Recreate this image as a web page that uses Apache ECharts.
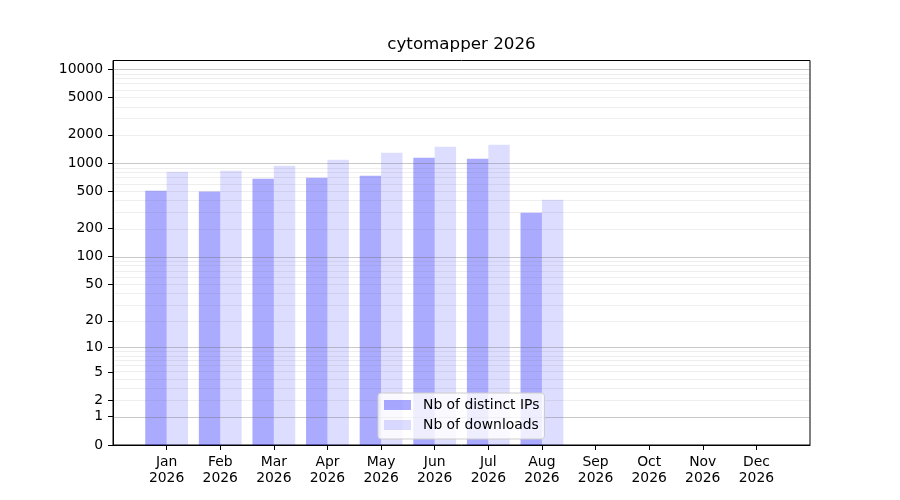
<!DOCTYPE html>
<html lang="en">
<head>
    <meta charset="UTF-8">
    <title>cytomapper 2026</title>
    <script src="https://cdn.jsdelivr.net/npm/echarts@6/dist/echarts.min.js"></script>
    <style>
        html, body { margin: 0; padding: 0; background: #fff; }
        #chart { width: 900px; height: 500px; }
    </style>
</head>
<body>
<div id="chart"></div>
<script>
    'use strict';
    // monthly values
    const months = ['Jan', 'Feb', 'Mar', 'Apr', 'May', 'Jun', 'Jul', 'Aug', 'Sep', 'Oct', 'Nov', 'Dec'];
    const year = '2026';
    const distinctIPs = [509, 497, 683, 700, 735, 1143, 1115, 296, 0, 0, 0, 0];
    const downloads = [811, 831, 939, 1088, 1292, 1497, 1572, 408, 0, 0, 0, 0];

    // y axis: log10(v + 1) scale
    const yTickLabels = [0, 1, 2, 5, 10, 20, 50, 100, 200, 500, 1000, 2000, 5000, 10000];
    const majorGrid = [1, 10, 100, 1000, 10000];
    const minorSteps = [2, 3, 4, 5, 6, 7, 8, 9];
    const yTop = 12380;

    function toAxis(v) { return v == null ? null : Math.log10(v + 1); }

    let minorGrid = [];
    majorGrid.slice(0, 4).forEach(function (d) {
        minorSteps.forEach(function (s) { minorGrid.push(s * d); });
    });

    // pad one empty slot on each side so the months sit at 1..12 of 0..13
    let categories = [''].concat(months.map(m => m + '\n' + year)).concat(['']);
    let ipData = [null].concat(distinctIPs.map(toAxis)).concat([null]);
    let dlData = [null].concat(downloads.map(toAxis)).concat([null]);

    const font = 'DejaVu Sans';
    let gridLines = minorGrid.map(v => ({
        yAxis: toAxis(v),
        lineStyle: { color: 'rgba(100,100,100,0.11)', width: 1, type: 'solid' }
    })).concat(majorGrid.map(v => ({
        yAxis: toAxis(v),
        lineStyle: { color: 'rgba(100,100,100,0.35)', width: 1, type: 'solid' }
    })));

    let option = {
        animation: false,
        textStyle: { fontFamily: font },
        title: {
            text: 'cytomapper ' + year,
            left: 461.5,
            top: 35,
            padding: 0,
            textAlign: 'center',
            textStyle: { fontFamily: font, fontSize: 16.7, fontWeight: 'normal', color: '#000', lineHeight: 20 }
        },
        legend: {
            data: ['Nb of distinct IPs', 'Nb of downloads'],
            orient: 'vertical',
            left: 378,
            top: 393,
            z: 10,
            padding: [4, 5, 6, 6],
            itemWidth: 27,
            itemHeight: 10,
            itemGap: 4,
            icon: 'rect',
            backgroundColor: 'rgba(255,255,255,0.8)',
            borderColor: '#cccccc',
            borderWidth: 1,
            borderRadius: 3,
            textStyle: { fontFamily: font, fontSize: 13.9, color: '#000', lineHeight: 16, padding: [0, 0, 0, 7] }
        },
        grid: {
            left: 113,
            right: 90,
            top: 60.5,
            bottom: 55,
            show: true,
            borderColor: '#000',
            borderWidth: 1,
            backgroundColor: 'transparent'
        },
        xAxis: {
            type: 'category',
            data: categories,
            boundaryGap: false,
            axisLine: { show: true, lineStyle: { color: '#000', width: 1 } },
            axisTick: {
                show: true,
                length: 5,
                interval: function (i) { return i > 0 && i < categories.length - 1; },
                lineStyle: { color: '#000' }
            },
            axisLabel: {
                interval: 0,
                margin: 9,
                fontFamily: font,
                fontSize: 13.9,
                lineHeight: 16,
                color: '#000'
            },
            splitLine: { show: false }
        },
        yAxis: {
            type: 'value',
            min: 0,
            max: toAxis(yTop),
            axisLine: { show: true, lineStyle: { color: '#000', width: 1 } },
            axisTick: {
                show: true,
                length: 5,
                customValues: yTickLabels.map(toAxis),
                lineStyle: { color: '#000' }
            },
            axisLabel: {
                customValues: yTickLabels.map(toAxis),
                margin: 10,
                fontFamily: font,
                fontSize: 13.9,
                color: '#000',
                formatter: function (v) { return String(Math.round(Math.pow(10, v) - 1)); }
            },
            splitLine: { show: false }
        },
        series: [
            {
                name: 'Nb of distinct IPs',
                type: 'bar',
                data: ipData,
                barWidth: 21.4,
                barGap: '0%',
                itemStyle: { color: 'rgba(0,0,255,0.333)' }
            },
            {
                name: 'Nb of downloads',
                type: 'bar',
                data: dlData,
                barWidth: 21.4,
                barGap: '0%',
                itemStyle: { color: 'rgba(0,0,255,0.133)' }
            },
            {
                name: 'grid',
                type: 'line',
                data: categories.map(() => null),
                z: 5,
                silent: true,
                showSymbol: false,
                markLine: {
                    silent: true,
                    symbol: 'none',
                    label: { show: false },
                    data: gridLines
                }
            }
        ]
    };

    let myChart = echarts.init(document.getElementById('chart'));
    myChart.setOption(option);
</script>
</body>
</html>
